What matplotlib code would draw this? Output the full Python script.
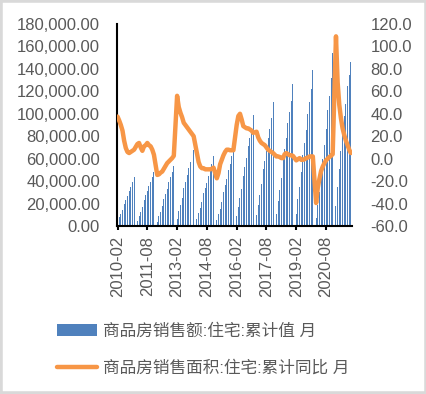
import matplotlib
matplotlib.use("Agg")
import matplotlib.pyplot as plt
from matplotlib.patches import Rectangle
from matplotlib.ticker import FuncFormatter, MultipleLocator
import numpy as np
import pandas as pd

nan = np.nan

# monthly categories 2010-02 .. 2021-11 (January has no data)
months = [p.strftime("%Y-%m") for p in pd.period_range("2010-02", "2021-11", freq="M")]
tick_labels = months[::18]

# 商品房销售额:住宅:累计值 (亿元)
sales = [
    3900, 7600, 11000, 14700, 19900, 23300, 27000, 31400, 35000, 39000, 44100,            # 2010
    nan, 4400, 9000, 12800, 17200, 23600, 27500, 31300, 36000, 39500, 43300, 48200,      # 2011
    nan, 3700, 8500, 12500, 17400, 23800, 28700, 33300, 39100, 43600, 48300, 53500,      # 2012
    nan, 6400, 13300, 18900, 25000, 33600, 39400, 45100, 52100, 57300, 62000, 67700,     # 2013
    nan, 5800, 11600, 16100, 21600, 29000, 33900, 38600, 45000, 50000, 55200, 62400,     # 2014
    nan, 5100, 10300, 15400, 21600, 30400, 36400, 42300, 49600, 55500, 62400, 72800,     # 2015
    nan, 8600, 17100, 24900, 33400, 44800, 52600, 60500, 71400, 78600, 87600, 99100,     # 2016
    nan, 9600, 19000, 27500, 37200, 50400, 58200, 66700, 78000, 86700, 96000, 110200,    # 2017
    nan, 10500, 22000, 32000, 43200, 58700, 68400, 78400, 91700, 101200, 111600, 126400, # 2018
    nan, 11100, 24300, 35100, 48100, 63700, 74400, 85300, 100200, 110300, 122400, 139400,# 2019
    nan, 7300, 18400, 30400, 45000, 59400, 72600, 86000, 103000, 116000, 132000, 154600, # 2020
    nan, 17400, 34600, 50600, 67000, 84700, 97900, 108700, 124500, 134700, 146500,       # 2021
]

# 商品房销售面积:住宅:累计同比 (%)
area_yoy = [
    37.5, 34, 30, 25, 16, 9.5, 6, 5, 6, 7, 8,                                # 2010
    nan, 13, 14, 10, 7, 11, 12, 14, 12, 11, 8, 3.5,                          # 2011
    nan, -14.5, -14, -12.5, -11.5, -9, -6.5, -4, -2.5, -1, 0.5, 2.5,         # 2012
    nan, 56, 46, 41, 37, 32, 30, 28, 26, 24, 22, 20,                         # 2013
    nan, 5, -3, -7, -8.5, -8.5, -9.5, -9.5, -9.5, -9.5, -9, -8,              # 2014
    nan, -17.5, -13, -5, -1, 3, 6, 8, 8, 7.5, 7.5, 7.5,                      # 2015
    nan, 30, 38, 40, 35, 29, 28, 27, 27, 26, 25, 23,                         # 2016
    nan, 24, 19, 16, 14, 13, 12, 10, 8, 7, 6, 5,                             # 2017
    nan, 2, 2, 1.5, 0.5, 0.5, 4, 5, 4, 3, 3, 2.5,                            # 2018
    nan, -1.5, -0.5, 0.5, -1, -1, -0.5, 0.5, 1, 2, 2, 2,                     # 2019
    nan, -39.5, -26, -18, -11, -7, -4, -1.5, 0, 1.5, 2.5, 4,                 # 2020
    nan, 109, 68, 48, 36, 27, 21, 16, 12, 8, 5,                              # 2021
]

label_bar = "商品房销售额:住宅:累计值 月"
label_line = "商品房销售面积:住宅:累计同比 月"

BLUE = "#4F81BD"
ORANGE = "#F79646"
GREY = "#595959"


def main():
    plt.rcParams["font.family"] = ["Liberation Sans", "Noto Sans CJK SC", "DejaVu Sans"]
    plt.rcParams["font.size"] = 12

    W, H = 427, 394
    fig = plt.figure(figsize=(W / 100, H / 100), dpi=100)
    ax = fig.add_axes([116.7 / W, 1 - 226 / H, 235 / W, 202 / H])
    ax2 = ax.twinx()

    x = np.arange(len(months))
    y1 = np.array(sales, dtype=float)
    y2 = np.array(area_yoy, dtype=float)

    bars = ax.bar(x, y1, width=0.6, color=BLUE, label=label_bar)
    ok = ~np.isnan(y2)
    line, = ax2.plot(x[ok], y2[ok], color=ORANGE, lw=3.2, solid_capstyle="round",
                     solid_joinstyle="round", label=label_line)

    ax.set_xlim(-0.5, len(months) - 0.5)
    ax.set_ylim(0, 180000)
    ax.yaxis.set_major_locator(MultipleLocator(20000))
    ax.yaxis.set_major_formatter(FuncFormatter(lambda v, p: f"{v:,.2f}"))
    ax2.set_ylim(-60, 120)
    ax2.yaxis.set_major_locator(MultipleLocator(20))
    ax2.yaxis.set_major_formatter(FuncFormatter(lambda v, p: f"{v:.1f}"))

    ax.set_xticks(x[::18])
    ax.set_xticklabels(tick_labels, rotation=90)

    for a in (ax, ax2):
        for s in ("top", "right", "left", "bottom"):
            a.spines[s].set_visible(False)
    ax.spines["left"].set_visible(True)
    ax.spines["bottom"].set_visible(True)
    ax.spines["left"].set_linewidth(1.5)
    ax.spines["bottom"].set_linewidth(1.5)

    ax.tick_params(axis="y", length=0, pad=12, colors=GREY, labelsize=12)
    ax.tick_params(axis="x", length=3, width=1.5, pad=4, colors="black",
                   labelcolor=GREY, labelsize=12)
    ax2.tick_params(axis="y", length=0, pad=13.5, colors=GREY, labelsize=12)

    leg = fig.legend([bars, line], [label_bar, label_line], loc="upper left",
                     bbox_to_anchor=(56.7 / W, 1 - 323 / H), frameon=False,
                     borderpad=0, borderaxespad=0, handlelength=2.4,
                     handletextpad=0.4, labelspacing=1.3, fontsize=12)
    for t in leg.get_texts():
        t.set_color(GREY)

    fig.add_artist(Rectangle((0, 0), 1, 1, transform=fig.transFigure, fill=False,
                             edgecolor="#D9D9D9", lw=4))

    fig.savefig("out.png", dpi=100)


if __name__ == "__main__":
    main()
